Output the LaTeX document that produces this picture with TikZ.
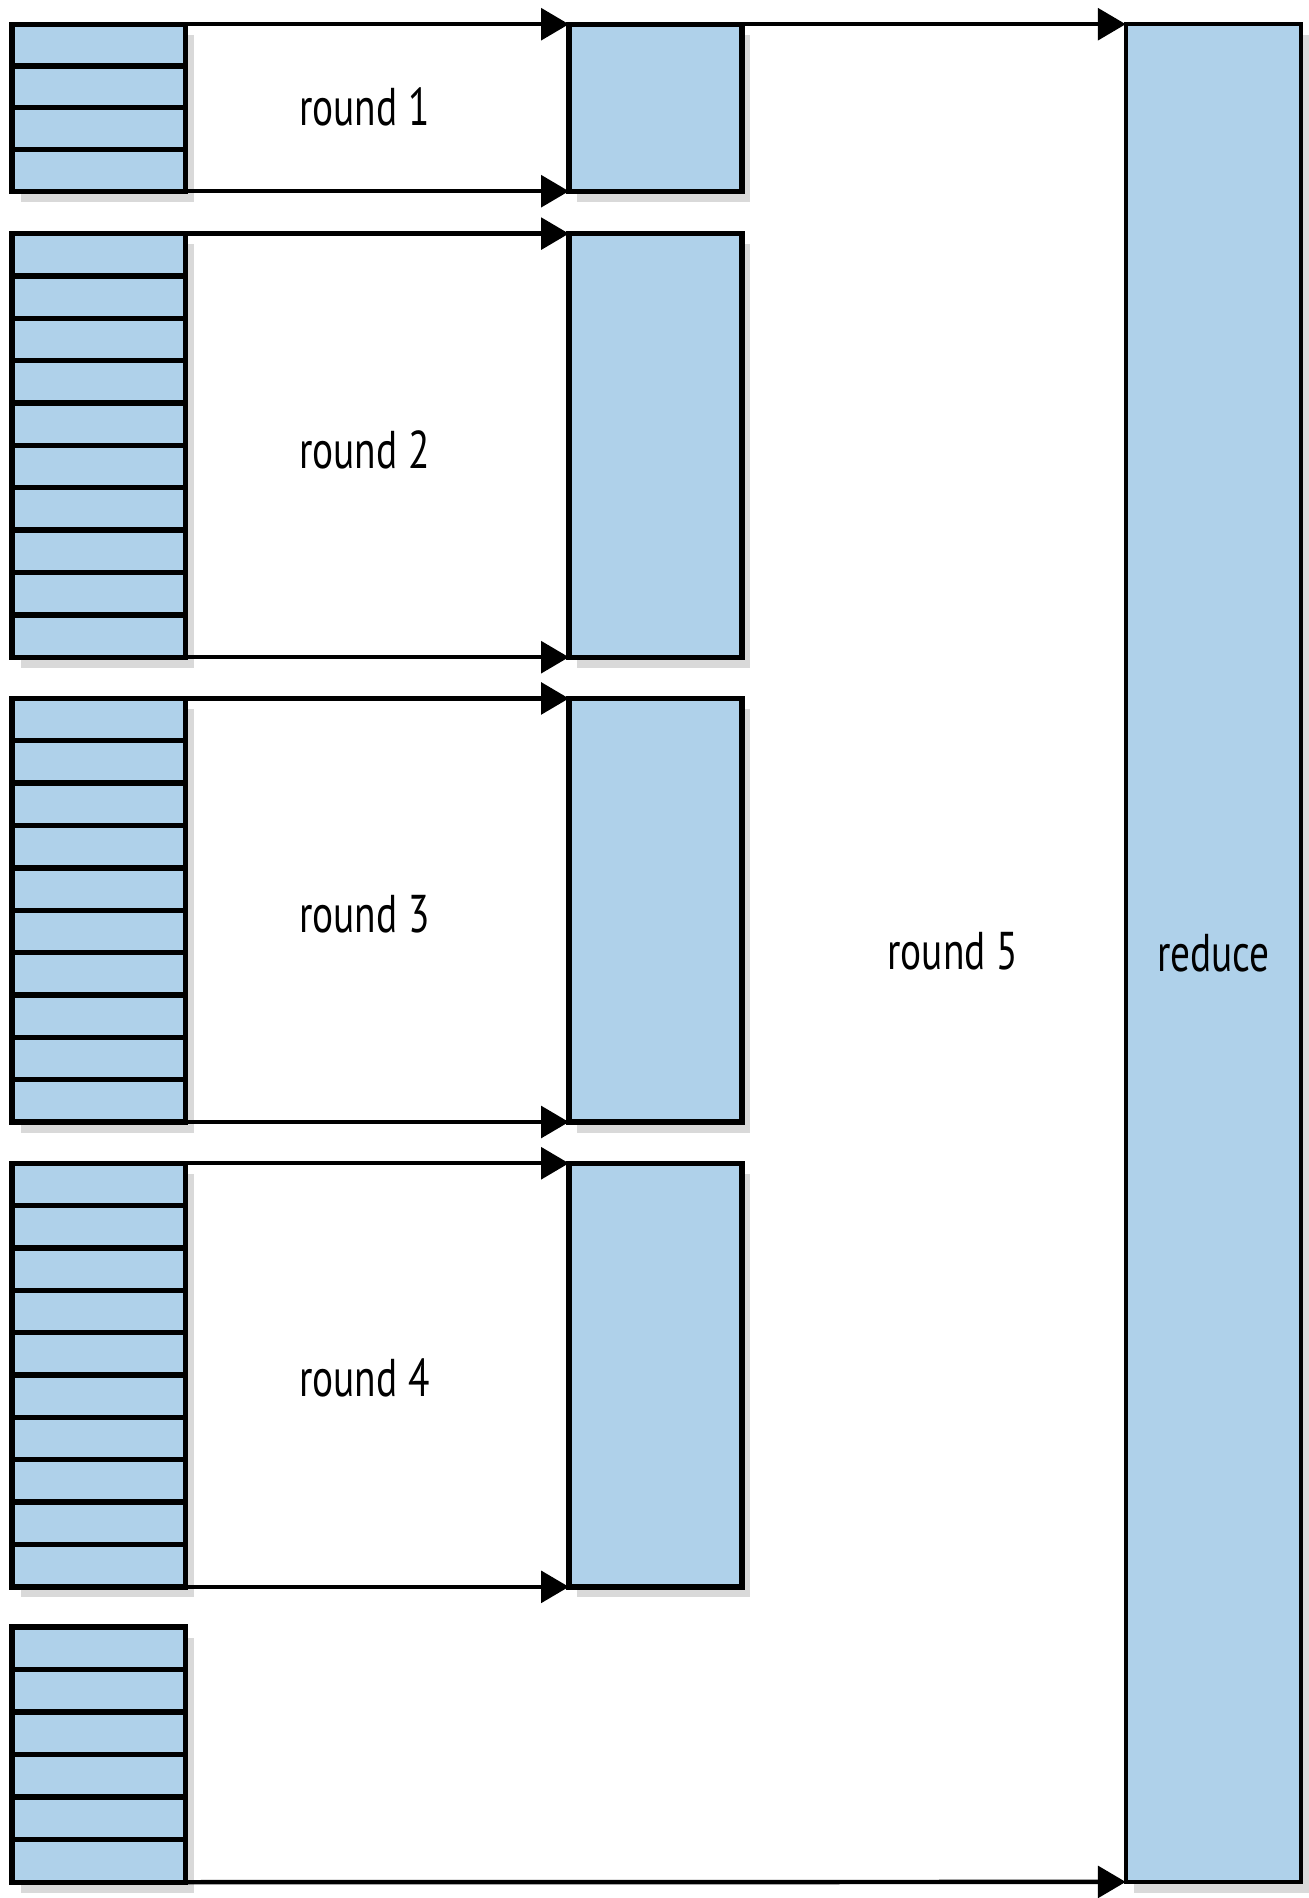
\documentclass[tikz,border=0pt]{standalone}
\usepackage{fontspec}
\setmainfont{PT Sans}[FakeStretch=0.74]
\usetikzlibrary{arrows.meta,shadows,calc}
\definecolor{boxblue}{RGB}{175,209,234}
\tikzset{
  box/.style={draw=black,fill=boxblue,line width=2.5pt,outer sep=0pt,inner sep=0pt,
    minimum width=2.86cm,anchor=north west,
    drop shadow={shadow xshift=4pt,shadow yshift=-5pt,opacity=0.3}},
  rows/.style={path picture={\foreach \k in {1,...,#1}{
    \draw[line width=2.5pt] ($(path picture bounding box.north west)!\k/#1!(path picture bounding box.south west)$)
      -- ($(path picture bounding box.north east)!\k/#1!(path picture bounding box.south east)$);}}},
  feed/.style={line width=2.1pt,-{Triangle[length=0.46cm,width=0.52cm]}},
  lbl/.style={font=\fontsize{25}{30}\selectfont}
}
\begin{document}
\begin{tikzpicture}[x=0.02cm,y=-0.02cm]
\useasboundingbox (0,0) rectangle (1081,1568);

\node[box,rows=4,minimum height=2.76cm] (s1) at (10,20) {};
\node[box,rows=10,minimum height=7cm] (s2) at (10,193) {};
\node[box,rows=10,minimum height=7cm] (s3) at (10,577) {};
\node[box,rows=10,minimum height=7cm] (s4) at (10,961) {};
\node[box,rows=6,minimum height=4.22cm] (s5) at (10,1344) {};

\node[box,minimum height=2.76cm] (m1) at (470,20) {};
\node[box,minimum height=7cm] (m2) at (470,193) {};
\node[box,minimum height=7cm] (m3) at (470,577) {};
\node[box,minimum height=7cm] (m4) at (470,961) {};

\node[box,lbl,minimum width=2.9cm,minimum height=30.7cm,line width=2pt] (red) at (930,20) {reduce};

\node[lbl] (r1) at (301,88) {round 1};
\node[lbl] (r2) at (301,372) {round 2};
\node[lbl] (r3) at (301,755) {round 3};
\node[lbl] (r4) at (301,1138) {round 4};
\node[lbl] (r5) at (787,786) {round 5};

\foreach \i in {1,...,4}{
  \draw[feed] (s\i.north east) -- (m\i.north west);
  \draw[feed] (s\i.south east) -- (m\i.south west);
}
\draw[feed] (m1.north east) -- (red.north west);
\draw[feed] (s5.south east) -- (red.south west);
\end{tikzpicture}
\end{document}
